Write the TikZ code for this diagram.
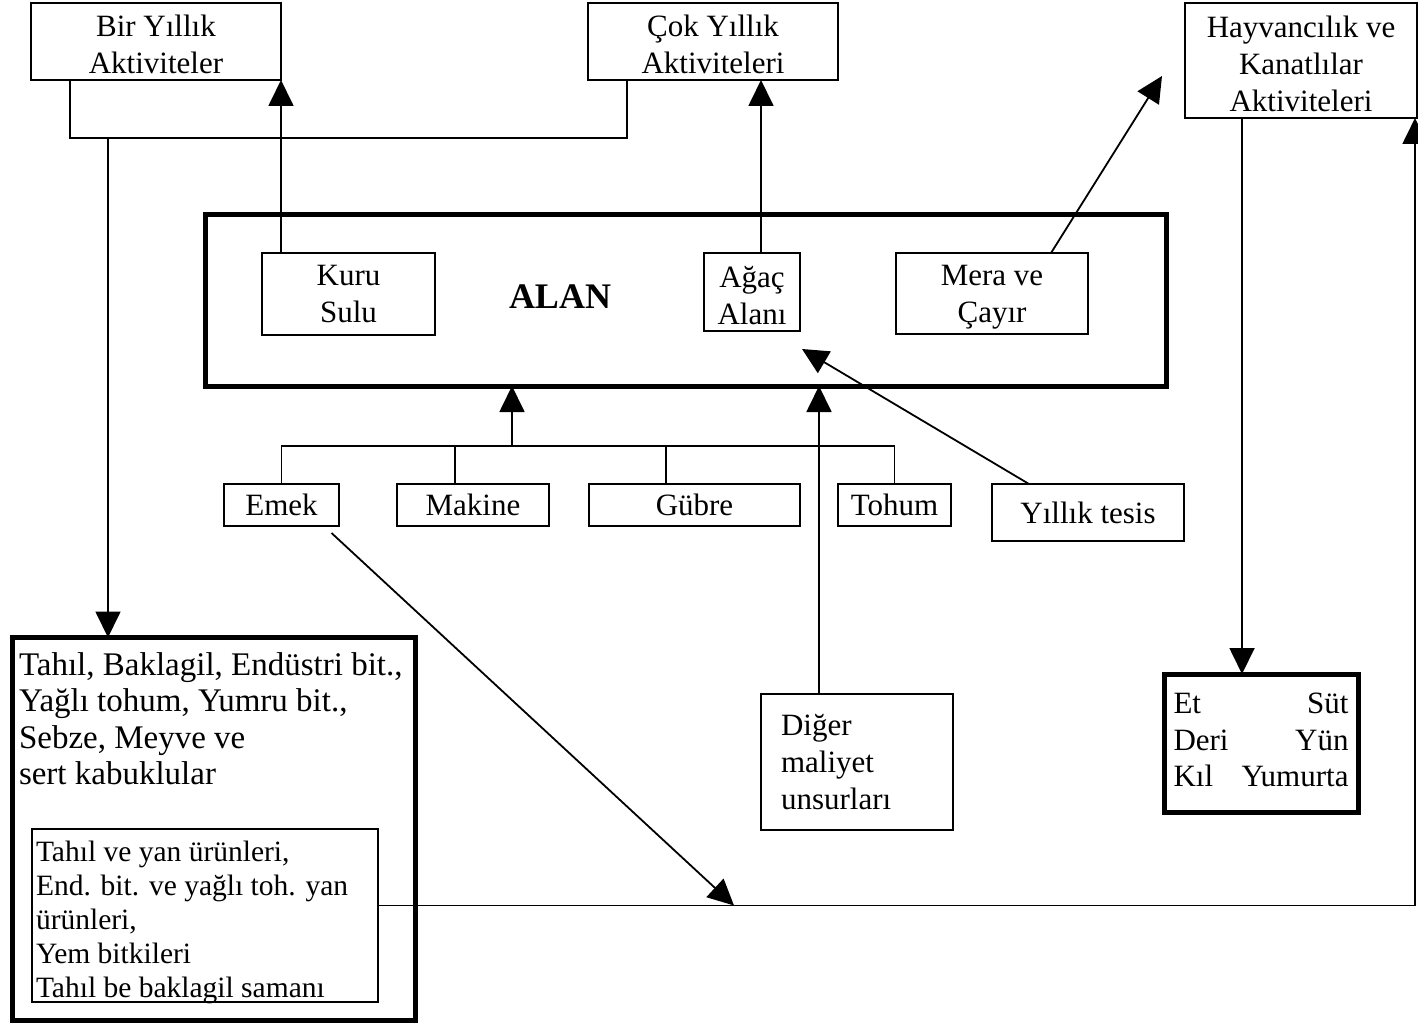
\documentclass[tikz,border=0pt]{standalone}
\usepackage{fontspec}
\setmainfont{Liberation Serif}
\usetikzlibrary{arrows.meta}
\newcommand\tp{\rule{0pt}{28pt}}
\begin{document}
\begin{tikzpicture}[x=1pt,y=-1pt,
  every node/.style={inner sep=0pt, outer sep=0pt},
  bx/.style={draw, line width=2pt, align=center, font=\fontsize{31}{37}\selectfont},
  thickbx/.style={draw, line width=5pt},
  ln/.style={line width=1.8pt},
  arr/.style={ln, -{Triangle[length=26pt,width=25pt]}},
]
\useasboundingbox (0,0) rectangle (1418,1024);

% top boxes
\node[bx, minimum width=250pt, minimum height=77pt] (bir) at (156,41.5) {\tp Bir Yıllık\\Aktiviteler};
\node[bx, minimum width=250pt, minimum height=77pt] (cok) at (713,41.5) {\tp Çok Yıllık\\Aktiviteleri};
\node[bx, minimum width=232pt, minimum height=115pt] (hay) at (1301,60.5) {\tp Hayvancılık ve\\Kanatlılar\\Aktiviteleri};

% ALAN
\node[thickbx, minimum width=961pt, minimum height=171pt] (alan) at (685.5,300.5) {};
\node[font=\bfseries\fontsize{36}{42}\selectfont] (alantext) at (560,297) {ALAN};
\node[bx, minimum width=173pt, minimum height=82pt] (kuru) at (348.5,294) {Kuru\\Sulu};
\node[bx, minimum width=96pt, minimum height=78pt] (agac) at (752,292) {\tp Ağaç\\Alanı};
\node[bx, minimum width=192pt, minimum height=81pt] (mera) at (992,293.5) {\tp Mera ve\\Çayır};

% inputs
\node[bx, minimum width=115pt, minimum height=42pt] (emek) at (281.5,505) {Emek};
\node[bx, minimum width=152pt, minimum height=42pt] (makine) at (473,505) {Makine};
\node[bx, minimum width=211pt, minimum height=42pt] (gubre) at (694.5,505) {Gübre};
\node[bx, minimum width=113pt, minimum height=42pt] (tohum) at (894.5,505) {Tohum};
\node[bx, minimum width=192pt, minimum height=57pt] (tesis) at (1088,512.5) {Yıllık tesis};
\node[bx, align=left, text width=152pt, minimum width=192pt, minimum height=136pt] (diger) at (857,762) {Diğer\\maliyet\\unsurları};

% products
\node[thickbx, minimum width=194pt, minimum height=138pt, font=\fontsize{31}{36.5}\selectfont] (et) at (1261,743)
  {\begin{tabular*}{175pt}{@{}l@{\extracolsep{\fill}}r@{}}Et & Süt\\ Deri & Yün\\ Kıl & Yumurta\end{tabular*}};

\node[thickbx, minimum width=403pt, minimum height=383pt] (big) at (214,829) {};
\node[anchor=north west, align=left, font=\fontsize{33}{36.5}\selectfont] (bigtext) at (19,652.5)
  {Tahıl, Baklagil, Endüstri bit.,\\Yağlı tohum, Yumru bit.,\\Sebze, Meyve ve\\sert kabuklular};
\node[draw, line width=1.2pt, minimum width=346pt, minimum height=173pt] (feed) at (205,915.5) {};
\node[anchor=north west, align=left, font=\fontsize{29.5}{34}\selectfont] (feedtext) at (36,841)
  {Tahıl ve yan ürünleri,\\End. bit. ve yağlı toh. yan\\ürünleri,\\Yem bitkileri\\Tahıl be baklagil samanı};

% coordinates
\coordinate (split) at (108,138);
\coordinate (bus) at (512,446);
\coordinate (meraend) at (1162,76);
\coordinate (tesisend) at (802,349);
\coordinate (meet) at (734,905.5);

% connectors
\draw[ln] ([xshift=39pt]bir.south west) -- ++(0,58) -| ([xshift=39pt]cok.south west);
\draw[arr] (split) -- (split |- big.north);
\draw[arr] (bir.south east |- kuru.north) -- (bir.south east);
\draw[arr] ([xshift=9pt]agac.north) -- ([xshift=9pt]agac.north |- cok.south);
\draw[arr] ([xshift=59pt]mera.north) -- (meraend);

\draw[ln] (emek.north) |- (bus) -| (tohum.north);
\draw[ln] ([xshift=-18pt]makine.north) -- ([xshift=-18pt]makine.north |- bus);
\draw[ln] ([xshift=-28.5pt]gubre.north) -- ([xshift=-28.5pt]gubre.north |- bus);
\draw[arr] (bus) -- (bus |- alan.south);
\draw[arr] ([xshift=-38pt]diger.north) -- ([xshift=-38pt]diger.north |- alan.south);
\draw[arr] ([xshift=-59pt]tesis.north) -- (tesisend);

\draw[arr] ([xshift=50pt,yshift=-7pt]emek.south) -- (meet);
\draw[arr] ([yshift=10pt]feed.east) -| ([xshift=-2pt]hay.south east);
\draw[arr] ([xshift=-59pt]hay.south) -- ([xshift=-59pt]hay.south |- et.north);
\end{tikzpicture}
\end{document}
